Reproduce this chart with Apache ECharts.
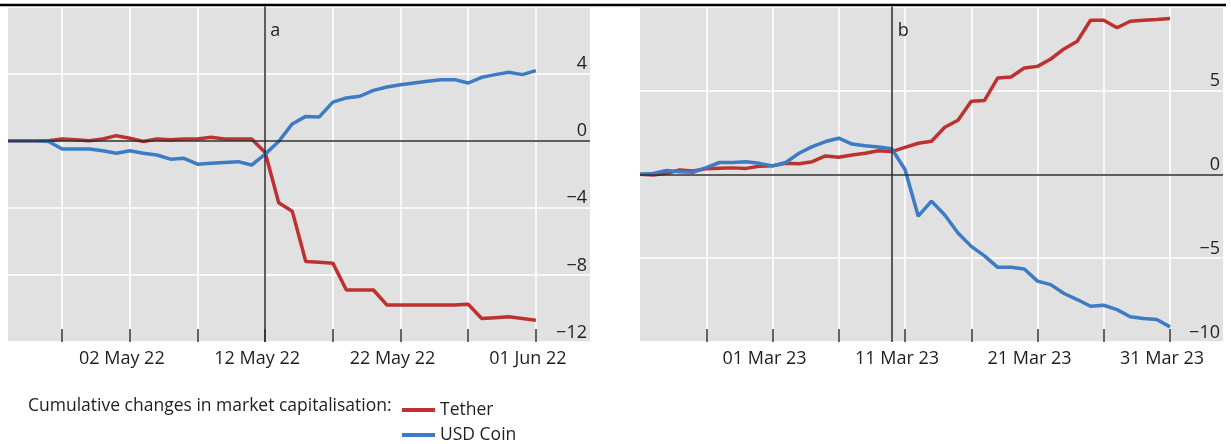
<!DOCTYPE html>
<html>
<head>
<meta charset="utf-8">
<script src="https://cdn.jsdelivr.net/npm/echarts@6/dist/echarts.min.js"></script>
<style>
html,body{margin:0;padding:0;background:#fff;}
#c{width:1231px;height:444px;}
</style>
</head>
<body>
<div id="c"></div>
<script>
// ---- categories (daily) ----
const leftStart = '2022-04-23', leftDays = 44;   // 23 Apr 22 .. 05 Jun 22
const rightStart = '2023-02-19', rightDays = 45; // 19 Feb 23 .. 04 Apr 23
const leftEvent = '12 May 22';
const rightEvent = '10 Mar 23';

// ---- series values (bn USD, cumulative changes) ----
const tetherA = [0.0, 0.0, 0.0, 0.0, 0.1, 0.05, 0.0, 0.1, 0.3, 0.15,
  -0.05, 0.1, 0.05, 0.1, 0.1, 0.2, 0.1, 0.1, 0.1, -0.7,
  -3.7, -4.2, -7.2, -7.25, -7.3, -8.9, -8.9, -8.9, -9.8, -9.8,
  -9.8, -9.8, -9.8, -9.8, -9.75, -10.6, -10.55, -10.5, -10.6, -10.7];
const usdcA = [0.0, 0.0, 0.0, -0.05, -0.5, -0.5, -0.5, -0.6, -0.75, -0.6,
  -0.75, -0.85, -1.1, -1.05, -1.4, -1.35, -1.3, -1.25, -1.45, -0.8,
  -0.05, 1.0, 1.45, 1.42, 2.3, 2.55, 2.65, 3.0, 3.2, 3.34,
  3.44, 3.54, 3.64, 3.64, 3.44, 3.78, 3.94, 4.08, 3.94, 4.18];
const tetherB = [0.0, -0.04, 0.06, 0.25, 0.2, 0.33, 0.36, 0.38, 0.35, 0.48,
  0.5, 0.66, 0.62, 0.75, 1.09, 1.01, 1.15, 1.25, 1.4, 1.35,
  1.6, 1.85, 1.97, 2.8, 3.22, 4.35, 4.4, 5.74, 5.8, 6.33,
  6.43, 6.87, 7.47, 7.93, 9.18, 9.18, 8.73, 9.12, 9.18, 9.22, 9.28];
const usdcB = [0.0, 0.05, 0.22, 0.15, 0.12, 0.4, 0.7, 0.7, 0.75, 0.65,
  0.5, 0.7, 1.25, 1.65, 1.95, 2.15, 1.8, 1.7, 1.62, 1.52,
  0.28, -2.5, -1.6, -2.43, -3.5, -4.3, -4.87, -5.55, -5.55, -5.65,
  -6.37, -6.58, -7.11, -7.47, -7.87, -7.81, -8.07, -8.5, -8.6, -8.66, -9.1];

// ---- axis ticks ----
const yTicksA = {min: -12, max: 8, interval: 4};
const yTicksB = {min: -10, max: 10, interval: 5};

const legendTitle = 'Cumulative changes in market capitalisation:';
const seriesNames = ['Tether', 'USD Coin'];

const MONTHS = ['Jan','Feb','Mar','Apr','May','Jun','Jul','Aug','Sep','Oct','Nov','Dec'];
function dayList(start, n) {
  const out = [];
  const d0 = new Date(start + 'T00:00:00Z');
  for (let i = 0; i < n; i++) {
    const d = new Date(d0.getTime() + i * 86400000);
    const dd = String(d.getUTCDate()).padStart(2, '0');
    const yy = String(d.getUTCFullYear()).slice(2);
    out.push(dd + ' ' + MONTHS[d.getUTCMonth()] + ' ' + yy);
  }
  return out;
}
const catA = dayList(leftStart, leftDays);
const catB = dayList(rightStart, rightDays);

const RED = '#bd3230', BLUE = '#3d7cc5', TXT = '#1e1e1e', BG = '#e1e1e1';
const FONT = 'Open Sans';
const FS = 18;
const LFS = 17.5;

function minus(v) { return v < 0 ? '\u2212' + Math.abs(v) : String(v); }

function xAxis(idx, cats, tickFn, labelFn) {
  return {
    type: 'category', gridIndex: idx, data: cats, boundaryGap: false,
    axisLine: {show: false, onZero: false},
    axisTick: {show: true, inside: true, length: 13, interval: tickFn,
      lineStyle: {color: '#333', width: 1.5}},
    splitLine: {show: true, interval: tickFn, lineStyle: {color: '#fff', width: 1.5}},
    axisLabel: {show: true, interval: labelFn, margin: 8, color: TXT,
      fontFamily: FONT, fontSize: FS, padding: [0, 16, 0, 0], hideOverlap: false}
  };
}
function yAxis(idx, t) {
  return {
    type: 'value', gridIndex: idx, position: 'right',
    min: t.min, max: t.max, interval: t.interval,
    axisLine: {show: false}, axisTick: {show: false},
    splitLine: {show: true, lineStyle: {color: '#fff', width: 1.5}},
    axisLabel: {show: true, inside: true, margin: 3, showMaxLabel: false, showMinLabel: true,
      verticalAlign: 'bottom', lineHeight: 19, color: TXT, fontFamily: FONT, fontSize: FS,
      formatter: minus}
  };
}
function lineSeries(name, data, idx, color) {
  return {
    name: name, type: 'line', xAxisIndex: idx, yAxisIndex: idx, data: data,
    showSymbol: false, symbol: 'none', z: 3, animation: false,
    lineStyle: {color: color, width: 3.5}, itemStyle: {color: color}
  };
}
function refSeries(idx, evt) {
  return {
    type: 'line', xAxisIndex: idx, yAxisIndex: idx, data: [], z: 2, silent: true,
    animation: false,
    markLine: {
      silent: true, symbol: ['none', 'none'], animation: false,
      label: {show: false},
      lineStyle: {color: '#2b2b2b', width: 1.5, type: 'solid'},
      data: [{yAxis: 0}, {xAxis: evt}]
    }
  };
}
function legendItem(name, top) {
  return {
    data: [name], orient: 'horizontal', left: 397, top: top,
    icon: 'rect', itemWidth: 33, itemHeight: 4, itemGap: 8,
    textStyle: {color: TXT, fontFamily: FONT, fontSize: LFS},
    selectedMode: false
  };
}

const tickA = (i) => i % 5 === 4;
const labA = (i) => i % 10 === 9;
const tickB = (i) => i > 0 && i % 5 === 0 && i <= 40;
const labB = (i) => i > 0 && i % 10 === 0;

const chart = echarts.init(document.getElementById('c'), null, {renderer: 'canvas'});
const option = {
  animation: false,
  textStyle: {fontFamily: FONT},
  grid: [
    {left: 8, top: 6.5, width: 582, height: 335.5, show: true, backgroundColor: BG, borderWidth: 0, containLabel: false},
    {left: 640, top: 6.5, width: 583, height: 335.5, show: true, backgroundColor: BG, borderWidth: 0, containLabel: false}
  ],
  xAxis: [xAxis(0, catA, tickA, labA), xAxis(1, catB, tickB, labB)],
  yAxis: [yAxis(0, yTicksA), yAxis(1, yTicksB)],
  legend: [legendItem(seriesNames[0], 396), legendItem(seriesNames[1], 421)],
  series: [
    refSeries(0, leftEvent), refSeries(1, rightEvent),
    lineSeries(seriesNames[0], tetherA, 0, RED),
    lineSeries(seriesNames[1], usdcA, 0, BLUE),
    lineSeries(seriesNames[0], tetherB, 1, RED),
    lineSeries(seriesNames[1], usdcB, 1, BLUE)
  ]
};
chart.setOption(option);

const ax = chart.convertToPixel({xAxisIndex: 0}, leftEvent);
const bx = chart.convertToPixel({xAxisIndex: 1}, rightEvent);
chart.setOption({
  graphic: [
    {type: 'line', id: 'rule', z: 0, shape: {x1: 0, y1: 5, x2: 1226, y2: 5},
      style: {stroke: '#000', lineWidth: 2.5}},
    {type: 'text', id: 'ta', left: ax + 5, top: 22, z: 10,
      style: {text: 'a', fill: TXT, font: FS + 'px "' + FONT + '"'}},
    {type: 'text', id: 'tb', left: bx + 6, top: 22, z: 10,
      style: {text: 'b', fill: TXT, font: FS + 'px "' + FONT + '"'}},
    {type: 'text', id: 'lt', left: 28, top: 397, z: 10,
      style: {text: legendTitle, fill: TXT, font: LFS + 'px "' + FONT + '"'}}
  ]
});
</script>
</body>
</html>
